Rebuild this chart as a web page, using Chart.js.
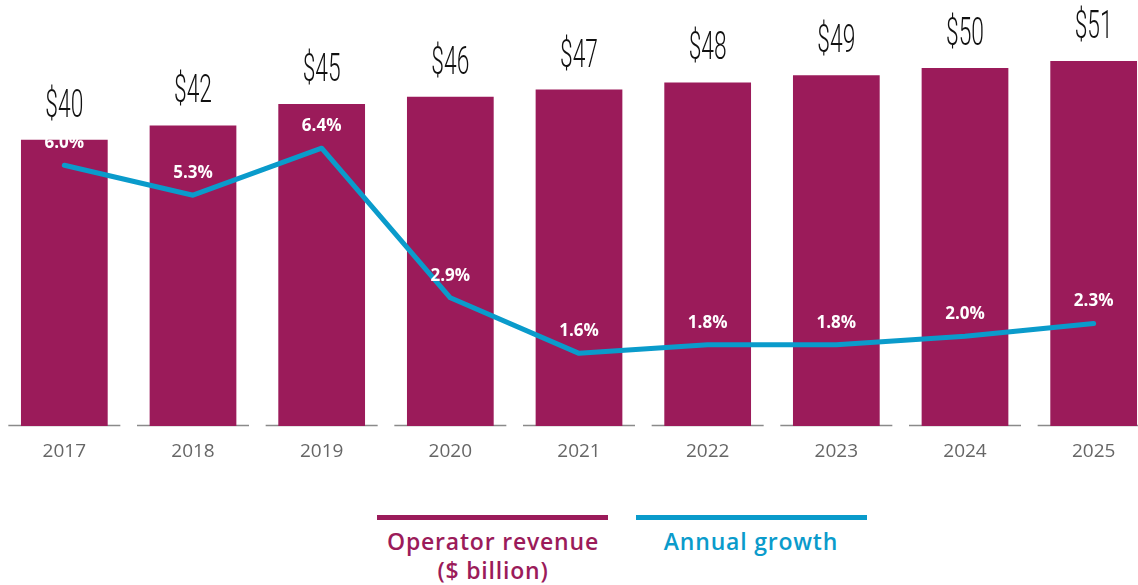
<!DOCTYPE html>
<html>
<head>
<meta charset="utf-8">
<script src="https://cdn.jsdelivr.net/npm/chart.js@4"></script>
<style>
    body { margin: 0; background: #fff; overflow: hidden; width: 1138px; height: 585px; position: relative; }
    #wrap { position: absolute; left: 0; top: 0; width: 1158px; height: 470px; }
    .key { position: absolute; top: 515px; height: 5px; width: 231px; }
    .keytext { position: absolute; top: 527px; width: 320px; text-align: center; font-family: 'Open Sans', sans-serif; font-weight: 600; font-size: 23px; letter-spacing: 0.8px; line-height: 29px; }
</style>
</head>
<body>
<div id="wrap"><canvas id="revenueChart"></canvas></div>

<div class="key" style="left:377px; background:#9B1B5A;"></div>
<div class="key" style="left:636px; background:#0A9BCB;"></div>
<div class="keytext" style="left:333px; color:#9B1B5A;">Operator revenue<br>($ billion)</div>
<div class="keytext" style="left:591px; color:#0A9BCB;">Annual growth</div>

<script>
const years = ['2017', '2018', '2019', '2020', '2021', '2022', '2023', '2024', '2025'];
const revenue = [40, 42, 45, 46, 47, 48, 49, 50, 51];
const growth = [6.0, 5.3, 6.4, 2.9, 1.6, 1.8, 1.8, 2.0, 2.3];

const barColor = '#9B1B5A';
const lineColor = '#0A9BCB';

// short grey base line under each year
const axisSegments = {
    id: 'axisSegments',
    beforeDatasetsDraw(chart) {
        const ctx = chart.ctx;
        const x = chart.scales.x;
        const y = chart.scales.y.getPixelForValue(0);
        ctx.save();
        ctx.strokeStyle = '#8a8a8a';
        ctx.lineWidth = 1.5;
        years.forEach((yr, i) => {
            const cx = x.getPixelForValue(i);
            ctx.beginPath();
            ctx.moveTo(cx - 56, y - 0.5);
            ctx.lineTo(cx + 56, y - 0.5);
            ctx.stroke();
        });
        ctx.restore();
    }
};

const valueLabels = {
    id: 'valueLabels',
    afterDatasetsDraw(chart) {
        const ctx = chart.ctx;
        ctx.save();

        // revenue labels, narrow font above bars
        chart.getDatasetMeta(1).data.forEach((bar, i) => {
            ctx.save();
            ctx.translate(bar.x, bar.y - 23);
            ctx.scale(0.6, 1);
            ctx.font = "300 38px Roboto";
            ctx.fillStyle = '#111';
            ctx.textAlign = 'center';
            ctx.textBaseline = 'alphabetic';
            ctx.fillText('$' + revenue[i], 0, 0);
            ctx.restore();
        });

        // growth labels, white above line points
        ctx.font = "bold 17px 'Open Sans'";
        ctx.fillStyle = '#fff';
        ctx.textAlign = 'center';
        ctx.textBaseline = 'middle';
        chart.getDatasetMeta(0).data.forEach((pt, i) => {
            ctx.fillText(growth[i].toFixed(1) + '%', pt.x, pt.y - 22);
        });
        ctx.restore();
    }
};

const ctx = document.getElementById('revenueChart').getContext('2d');

new Chart(ctx, {
    type: 'bar',
    data: {
        labels: years,
        datasets: [
            {
                type: 'line',
                label: 'Annual growth',
                data: growth,
                yAxisID: 'y1',
                borderColor: lineColor,
                borderWidth: 5,
                pointRadius: 0,
                tension: 0,
                borderCapStyle: 'round',
                borderJoinStyle: 'round',
                order: 0
            },
            {
                label: 'Operator revenue ($ billion)',
                data: revenue,
                yAxisID: 'y',
                backgroundColor: barColor,
                categoryPercentage: 1,
                barPercentage: 0.674,
                order: 1
            }
        ]
    },
    options: {
        responsive: true,
        maintainAspectRatio: false,
        animation: false,
        layout: {
            padding: { top: 8, left: 0, right: 0, bottom: 0 }
        },
        plugins: {
            legend: { display: false },
            tooltip: { enabled: false }
        },
        scales: {
            x: {
                grid: { display: false, drawTicks: false },
                border: { display: false },
                ticks: {
                    padding: 14,
                    color: '#666',
                    font: { family: "'Open Sans', sans-serif", size: 19 }
                },
                afterFit(scale) { scale.height = 44; }
            },
            y: {
                display: false,
                min: 0,
                max: 58.4
            },
            y1: {
                display: false,
                min: -0.1,
                max: 9.68
            }
        }
    },
    plugins: [axisSegments, valueLabels]
});
</script>
</body>
</html>
